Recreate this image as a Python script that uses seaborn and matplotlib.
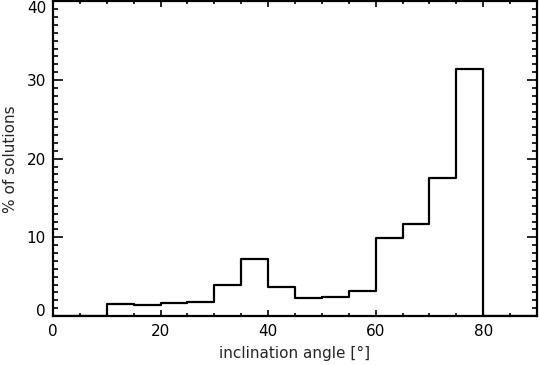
import numpy as np
import pandas as pd
import matplotlib
matplotlib.use('Agg')
import matplotlib.pyplot as plt
import seaborn as sns
from matplotlib.ticker import MultipleLocator

sns.set_style('ticks')
plt.rcParams['font.family'] = ['DejaVu Sans']

# histogram of inclination angle, 5 deg bins (percent of solutions)
bin_centers = [2.5, 7.5, 12.5, 17.5, 22.5, 27.5, 32.5, 37.5, 42.5,
               47.5, 52.5, 57.5, 62.5, 67.5, 72.5, 77.5, 82.5, 87.5]
percent = [0, 0, 1.5, 1.45, 1.65, 1.8, 3.9, 7.2, 3.65, 2.25, 2.45, 3.2,
           9.9, 11.7, 17.6, 31.4, 0, 0]

df = pd.DataFrame({'angle': bin_centers, 'pct': percent})

fig = plt.figure(figsize=(5.39, 3.65), dpi=100)
ax = fig.add_axes([0.0983, 0.1342, 0.898, 0.862])

sns.histplot(data=df, x='angle', weights='pct', binwidth=5, binrange=(0, 90),
             element='step', fill=False, color='black', linewidth=1.6, ax=ax)

ax.set_xlim(0, 90)
ax.set_ylim(0, 40)
ax.xaxis.set_major_locator(MultipleLocator(20))
ax.xaxis.set_minor_locator(MultipleLocator(5))
ax.yaxis.set_major_locator(MultipleLocator(10))
ax.yaxis.set_minor_locator(MultipleLocator(1))

for s in ax.spines.values():
    s.set_visible(True)
    s.set_linewidth(1.6)
    s.set_color('black')

ax.tick_params(axis='both', which='both', direction='in', top=True, right=True,
               colors='black', labelsize=11, width=1.2)
ax.tick_params(axis='x', which='major', length=4.5, pad=6)
ax.tick_params(axis='x', which='minor', length=2.3)
ax.tick_params(axis='y', which='major', length=7, pad=5)
ax.tick_params(axis='y', which='minor', length=3.5)

ax.set_xlabel('inclination angle [°]', fontsize=11, labelpad=5)
ax.set_ylabel('% of solutions', fontsize=11, labelpad=6)

# IDL style: end labels kept inside the plot box
yticks = ax.yaxis.get_major_locator()()
for val, tick in zip(yticks, ax.yaxis.get_major_ticks(len(yticks))):
    if np.isclose(val, 40):
        tick.label1.set_va('top')
    elif np.isclose(val, 0):
        tick.label1.set_va('baseline')

fig.savefig('out.png', dpi=100)
plt.close(fig)
